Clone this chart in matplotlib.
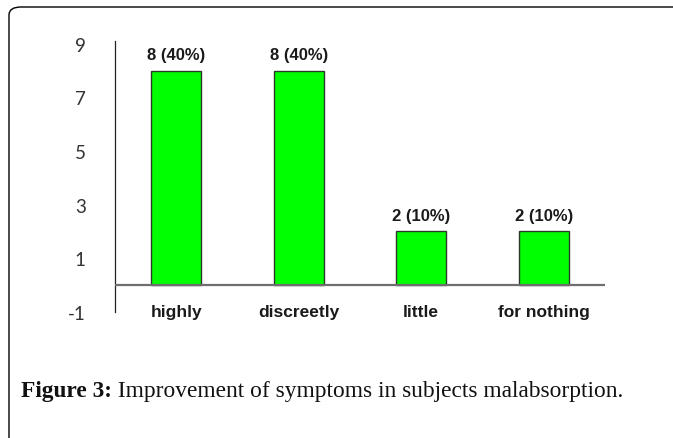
import matplotlib
matplotlib.use("Agg")
import matplotlib.pyplot as plt
from matplotlib.patches import FancyBboxPatch

categories = ["highly", "discreetly", "little", "for nothing"]
values = [8, 8, 2, 2]
value_labels = ["8 (40%)", "8 (40%)", "2 (10%)", "2 (10%)"]
yticks = [-1, 1, 3, 5, 7, 9]
caption_bold = "Figure 3:"
caption_text = " Improvement of symptoms in subjects malabsorption."

W, H = 673, 439
fig = plt.figure(figsize=(W / 100, H / 100), dpi=100)
fig.patch.set_facecolor("white")

# rounded frame (cropped on right and bottom)
frame = FancyBboxPatch((9 / W, -0.1), 1.5, (H - 8) / H + 0.1,
                       boxstyle="round,pad=0,rounding_size=0.018",
                       transform=fig.transFigure, fill=False,
                       edgecolor="black", linewidth=1.0, clip_on=False)
fig.patches.append(frame)

ax = fig.add_axes([115 / W, (H - 312.8) / H, 490 / W, 270.7 / H])
x = list(range(len(categories)))
ax.bar(x, values, width=0.405, color="#00ff00", edgecolor="#2a3a2a", linewidth=1.0, zorder=3)
ax.axhline(0, color="#6e6e6e", linewidth=1.6, zorder=4)
ax.set_xlim(-0.5, 3.5)
ax.set_ylim(-1, 9.1)
ax.set_yticks(yticks)
ax.set_yticklabels([str(t) for t in yticks], fontfamily="Lato", fontsize=13.5, color="#333333")
ax.tick_params(axis="y", length=0, pad=21)
ax.set_xticks([])
for s in ["top", "right", "bottom"]:
    ax.spines[s].set_visible(False)
ax.spines["left"].set_color("#222222")
ax.spines["left"].set_linewidth(0.9)

for xi, v, lab in zip(x, values, value_labels):
    ax.annotate(lab, (xi, v), xytext=(0, 6), textcoords="offset points",
                ha="center", va="bottom", fontsize=12, fontweight="bold",
                fontfamily="Liberation Sans", color="#1a1a1a")

for xi, c in zip(x, categories):
    ax.text(xi, -1, c, ha="center", va="center", fontsize=12.5, fontweight="bold",
            fontfamily="Liberation Sans", color="#1a1a1a")

t1 = fig.text(21 / W, 1 - 392 / H, caption_bold, fontfamily="Liberation Serif",
              fontweight="bold", fontsize=16.8, va="center", ha="left", color="#111111")
fig.canvas.draw()
bb = t1.get_window_extent()
fig.text(bb.x1 / W, 1 - 392 / H, caption_text, fontfamily="Liberation Serif",
         fontsize=16.8, va="center", ha="left", color="#111111")

fig.savefig("out.png", dpi=100, facecolor="white")
